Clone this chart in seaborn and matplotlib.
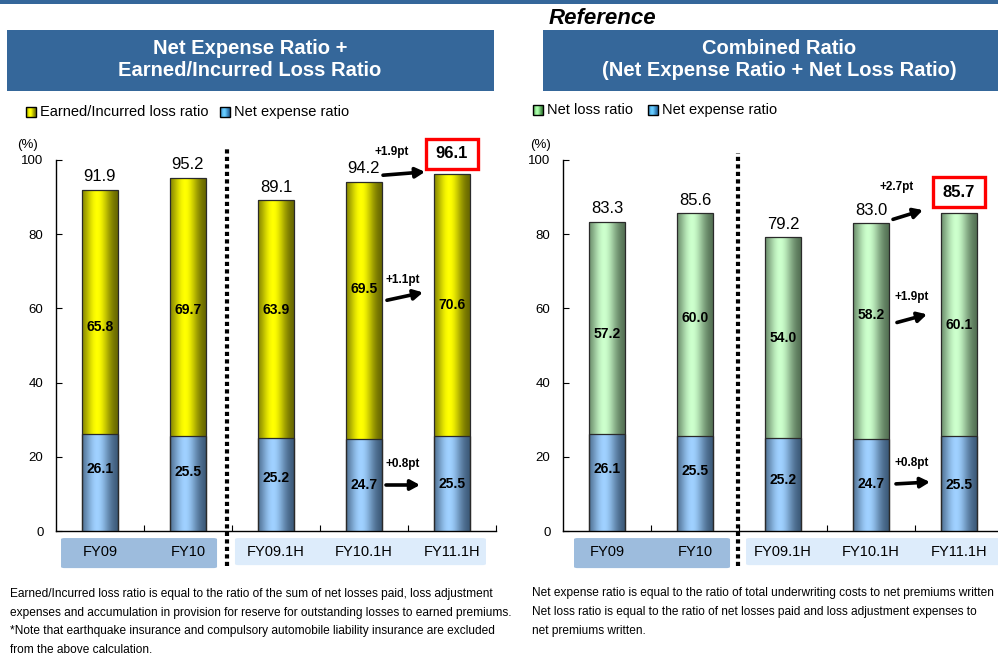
import numpy as np
import pandas as pd
import matplotlib
matplotlib.use("Agg")
import matplotlib.pyplot as plt
import seaborn as sns
from matplotlib.patches import Rectangle, FancyBboxPatch
from matplotlib.colors import to_rgb

# ---- data -------------------------------------------------------------
periods = ["FY09", "FY10", "FY09.1H", "FY10.1H", "FY11.1H"]
expense_ratio = [26.1, 25.5, 25.2, 24.7, 25.5]
earned_loss_ratio = [65.8, 69.7, 63.9, 69.5, 70.6]
earned_total = [91.9, 95.2, 89.1, 94.2, 96.1]
net_loss_ratio = [57.2, 60.0, 54.0, 58.2, 60.1]
combined_total = [83.3, 85.6, 79.2, 83.0, 85.7]
earned_changes = ["+0.8pt", "+1.1pt", "+1.9pt"]      # expense, loss, total
combined_changes = ["+0.8pt", "+1.9pt", "+2.7pt"]
y_ticks = [0, 20, 40, 60, 80, 100]

# heights where the in-bar figures sit
earned_loss_label_y = [54.9, 59.5, 59.5, 65.1, 60.8]
earned_exp_label_y = [16.8, 15.9, 14.2, 12.4, 12.7]
combined_loss_label_y = [53.0, 57.3, 51.9, 58.1, 55.4]
combined_exp_label_y = [16.8, 16.1, 13.7, 12.6, 12.3]

FONT = "Liberation Sans"
plt.rcParams["font.family"] = [FONT, "DejaVu Sans"]

W, H = 998, 657
fig = plt.figure(figsize=(W / 100, H / 100), dpi=100)
fig.patch.set_facecolor("white")

HEADER = "#35679a"
BOX_DARK = "#9dbcdd"
BOX_LIGHT = "#ddecfb"


def px_rect(x0, y0, x1, y1, **kw):
    """Rectangle given in figure pixels (origin at top-left)."""
    r = Rectangle((x0 / W, 1 - y1 / H), (x1 - x0) / W, (y1 - y0) / H,
                  transform=fig.transFigure, **kw)
    fig.add_artist(r)
    return r


def px_text(x, y, s, **kw):
    return fig.text(x / W, 1 - y / H, s, **kw)


def ramp(dark, light, n):
    """Cylinder-like colour profile across a bar (dark edges, bright core)."""
    t = (np.arange(n) + 0.5) / n
    s = np.exp(-((t - 0.42) / 0.36) ** 2)
    d, l = np.array(to_rgb(dark)), np.array(to_rgb(light))
    return d + (l - d) * s[:, None]


# header stripe, caption, section titles
px_rect(0, 0, W, 4, color=HEADER, lw=0)
px_text(602, 18, "Reference", ha="center", va="center", fontsize=16,
        fontweight="bold", style="italic")
px_rect(7, 30, 494, 91, color=HEADER, lw=0)
px_rect(543, 30, W, 91, color=HEADER, lw=0)
px_text(250, 60, "Net Expense Ratio +\nEarned/Incurred Loss Ratio", ha="center",
        va="center", fontsize=14.5, fontweight="bold", color="white", linespacing=1.2)
px_text(779, 60, "Combined Ratio\n(Net Expense Ratio + Net Loss Ratio)", ha="center",
        va="center", fontsize=14.5, fontweight="bold", color="white", linespacing=1.2)


def legend_item(x, y, dark, light, label):
    cols = ramp(dark, light, 10)
    for k in range(10):
        px_rect(x + k, y - 5, x + k + 1.05, y + 5, facecolor=cols[k], lw=0,
                antialiased=False)
    px_rect(x, y - 5, x + 10, y + 5, fill=False, edgecolor="black", lw=1.0)
    px_text(x + 14, y, label, ha="left", va="center", fontsize=10.5)


legend_item(26, 112, "#6e6e00", "#ffff00", "Earned/Incurred loss ratio")
legend_item(220, 112, "#1f5f9a", "#66ccff", "Net expense ratio")
legend_item(533, 110, "#2f7a2f", "#aaffaa", "Net loss ratio")
legend_item(648, 110, "#1f5f9a", "#66ccff", "Net expense ratio")


def shade(ax, patch, dark, light, n=36):
    """Paint a bar with vertical colour strips forming a gradient."""
    x0, y0 = patch.get_x(), patch.get_y()
    w, h = patch.get_width(), patch.get_height()
    cols = ramp(dark, light, n)
    dw = w / n
    for k in range(n):
        ax.add_patch(Rectangle((x0 + k * dw, y0), dw * 1.6 if k < n - 1 else dw, h,
                               facecolor=cols[k], lw=0, antialiased=False,
                               zorder=3 + k * 1e-4))
    ax.add_patch(Rectangle((x0, y0), w, h, fill=False, ec="#2a2a2a",
                           lw=0.9, zorder=3.5))


def draw_panel(ax_rect, totals, losses, loss_label_y, exp_label_y,
               top_dark, top_light, pct_x):
    ax = fig.add_axes(ax_rect)
    df = pd.DataFrame({"period": periods, "total": totals,
                       "expense": expense_ratio})
    sns.barplot(data=df, x="period", y="total", color=top_light, width=0.4,
                ax=ax, saturation=1)
    sns.barplot(data=df, x="period", y="expense", color="#99ccff", width=0.4,
                ax=ax, saturation=1)
    bars = list(ax.patches)
    for p in bars[:5]:
        shade(ax, p, top_dark, top_light)
    for p in bars[5:10]:
        shade(ax, p, "#34506e", "#9fd0ff")

    ax.set_xlim(-0.5, 4.5)
    ax.set_ylim(0, 100)
    ax.set_xlabel("")
    ax.set_ylabel("")
    ax.set_facecolor("none")
    for side in ("top", "right"):
        ax.spines[side].set_visible(False)
    for side in ("left", "bottom"):
        ax.spines[side].set_color("black")
        ax.spines[side].set_linewidth(1.0)
    ax.set_yticks(y_ticks)
    ax.set_yticklabels([str(v) for v in y_ticks], fontsize=9.5)
    ax.tick_params(axis="y", direction="in", length=4, pad=9)
    ax.set_xticks([0.5, 1.5, 2.5, 3.5, 4.5])
    ax.set_xticklabels([])
    ax.tick_params(axis="x", direction="in", length=4)
    ax.text(pct_x, 104, "(%)", ha="center", va="center", fontsize=9.5,
            transform=ax.transData, clip_on=False)

    n = len(periods)
    for i in range(n):
        if i < n - 1:
            ax.annotate(f"{totals[i]:.1f}", (i, totals[i]), xytext=(0, 4),
                        textcoords="offset points", ha="center", va="bottom",
                        fontsize=12, annotation_clip=False)
        ax.text(i, loss_label_y[i], f"{losses[i]:.1f}", ha="center",
                va="center", fontsize=10, fontweight="bold", zorder=5)
        ax.text(i, exp_label_y[i], f"{expense_ratio[i]:.1f}", ha="center",
                va="center", fontsize=10, fontweight="bold", zorder=5)

    # highlighted latest total
    last = n - 1
    cy = totals[last] + 5.6
    ax.add_patch(Rectangle((last - 0.3, cy - 4.0), 0.6, 8.0, fill=True,
                           fc="white", ec="#ff0000", lw=2.4, zorder=6,
                           clip_on=False))
    ax.text(last, cy, f"{totals[last]:.1f}", ha="center", va="center",
            fontsize=12, fontweight="bold", zorder=7, clip_on=False)
    return ax


def arrow(ax, start, end):
    ax.annotate("", xy=end, xytext=start, annotation_clip=False,
                arrowprops=dict(arrowstyle="-|>,head_length=0.55,head_width=0.3",
                                lw=2.6, color="black", shrinkA=0, shrinkB=0),
                zorder=6)


def chg(ax, x, y, s):
    ax.text(x, y, s, ha="center", va="center", fontsize=8.5,
            fontweight="bold", clip_on=False, zorder=6)


def category_boxes(ax, dark_span, light_span, light_bottom):
    ax.add_patch(FancyBboxPatch((dark_span[0], -10.0), dark_span[1] - dark_span[0],
                                8.1, boxstyle="round,pad=0,rounding_size=0.04",
                                fc=BOX_DARK, ec="none", clip_on=False,
                                mutation_aspect=8))
    ax.add_patch(FancyBboxPatch((light_span[0], light_bottom), light_span[1] - light_span[0],
                                -1.9 - light_bottom, boxstyle="round,pad=0,rounding_size=0.04",
                                fc=BOX_LIGHT, ec="none", clip_on=False,
                                mutation_aspect=8))
    for i, p in enumerate(periods):
        ax.text(i, -5.6, p, ha="center", va="center", fontsize=10.5,
                clip_on=False)


def dotted(ax, x, y0, y1):
    ax.plot([x, x], [y0, y1], color="black", lw=3.0, linestyle=(0, (1, 0.8)),
            clip_on=False, zorder=4, solid_capstyle="butt", dash_capstyle="butt")


yscale = 371.0
ax_l = draw_panel([56 / W, 126 / H, 440 / W, yscale / H], earned_total,
                  earned_loss_ratio, earned_loss_label_y, earned_exp_label_y,
                  "#5a5a00", "#ffff00", -0.82)
ax_r = draw_panel([563 / W, 126 / H, 440 / W, yscale / H], combined_total,
                  net_loss_ratio, combined_loss_label_y, combined_exp_label_y,
                  "#4a654a", "#ccffcc", -0.76)

# left panel annotations
dotted(ax_l, 1.443, -9.5, 103.0)
category_boxes(ax_l, (-0.443, 1.33), (1.534, 4.386), -9.2)
arrow(ax_l, (3.216, 95.9), (3.693, 96.8))
arrow(ax_l, (3.261, 62.2), (3.67, 64.3))
arrow(ax_l, (3.25, 12.4), (3.636, 12.4))
chg(ax_l, 3.318, 102.2, earned_changes[2])
chg(ax_l, 3.443, 67.6, earned_changes[1])
chg(ax_l, 3.443, 18.1, earned_changes[0])

# right panel annotations
dotted(ax_r, 1.489, -9.5, 102.0)
category_boxes(ax_r, (-0.375, 1.398), (1.58, 4.6), -9.2)
arrow(ax_r, (3.25, 84.0), (3.59, 86.5))
arrow(ax_r, (3.295, 56.2), (3.636, 58.4))
arrow(ax_r, (3.284, 12.7), (3.67, 13.2))
chg(ax_r, 3.295, 92.7, combined_changes[2])
chg(ax_r, 3.466, 63.2, combined_changes[1])
chg(ax_r, 3.466, 18.4, combined_changes[0])

# footnotes
left_notes = [
    "Earned/Incurred loss ratio is equal to the ratio of the sum of net losses paid, loss adjustment",
    "expenses and accumulation in provision for reserve for outstanding losses to earned premiums.",
    "*Note that earthquake insurance and compulsory automobile liability insurance are excluded",
    "from the above calculation.",
]
right_notes = [
    "Net expense ratio is equal to the ratio of total underwriting costs to net premiums written",
    "Net loss ratio is equal to the ratio of net losses paid and loss adjustment expenses to",
    "net premiums written.",
]
for k, line in enumerate(left_notes):
    px_text(10, 594 + 18.6 * k, line, ha="left", va="center", fontsize=8.6)
for k, line in enumerate(right_notes):
    px_text(532, 593 + 19 * k, line, ha="left", va="center", fontsize=8.6)

fig.savefig("out.png", dpi=100, facecolor="white")
